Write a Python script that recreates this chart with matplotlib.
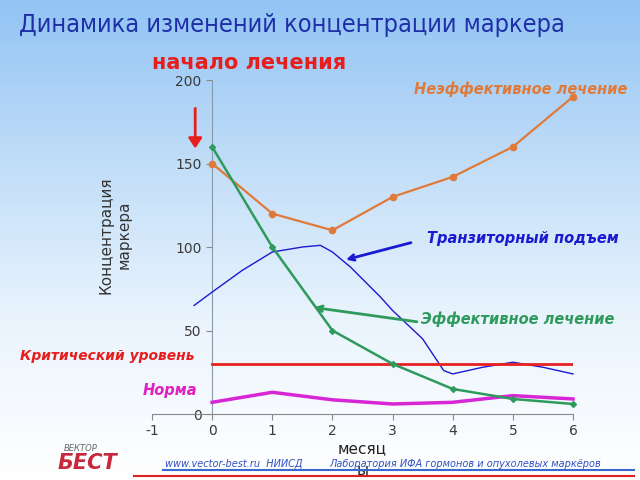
import numpy as np
import matplotlib.pyplot as plt
from matplotlib.colors import LinearSegmentedColormap

plt.rcParams['axes.unicode_minus'] = False

# Data
months = [0, 1, 2, 3, 4, 5, 6]
ineffective = [150, 120, 110, 130, 142, 160, 190]
effective = [160, 100, 50, 30, 15, 9, 6]
norma = [7, 13, 8.5, 6, 7, 11, 9]
critical_level = 30

transit_x = [-0.3, 0, 0.5, 1, 1.5, 1.8, 2, 2.3, 2.8, 3, 3.5, 3.85, 4, 4.5, 5, 5.5, 6]
transit_y = [65, 73, 86, 97, 100, 101, 97, 88, 70, 62, 45, 26, 24, 28, 31, 28, 24]

x_ticks = [-1, 0, 1, 2, 3, 4, 5, 6]
y_ticks = [0, 50, 100, 150, 200]

fig = plt.figure(figsize=(6.4, 4.8), dpi=100)

# background gradient
bg = fig.add_axes([0, 0, 1, 1], zorder=-5)
grad = np.linspace(0, 1, 256).reshape(-1, 1)
cmap = LinearSegmentedColormap.from_list('sky', ['#92c4f4', '#c0ddf8', '#eaf4fd', '#ffffff'])
bg.imshow(grad, aspect='auto', cmap=cmap, extent=[0, 1, 0, 1], origin='upper')
bg.axis('off')

ax = fig.add_axes([0.2375, 0.1375, 0.6578, 0.6958])
ax.patch.set_visible(False)

ax.plot(months, ineffective, color='#e07a3a', lw=1.6, marker='o', ms=4.5, zorder=4, clip_on=False)
ax.plot(transit_x, transit_y, color='#1a1ad0', lw=1, zorder=3, clip_on=False)
ax.plot(months, effective, color='#2e9a5c', lw=1.8, marker='D', ms=3, zorder=4, clip_on=False)
ax.plot([0, 6], [critical_level, critical_level], color='#e82020', lw=2, zorder=3)
ax.plot(months, norma, color='#d626d6', lw=2.5, zorder=3, clip_on=False)

ax.set_xlim(-1, 6)
ax.set_ylim(0, 200)
ax.set_xticks(x_ticks)
ax.set_yticks(y_ticks)
ax.tick_params(labelsize=10, colors='#3a3a3a', length=4)
ax.tick_params(axis='both', color='#888888')
for s in ['top', 'right']:
    ax.spines[s].set_visible(False)
ax.spines['left'].set_position(('data', 0))
ax.spines['left'].set_color('#8899aa')
ax.spines['bottom'].set_color('#888888')

ax.set_xlabel('месяц\nы', fontsize=11, color='#222222', labelpad=2, linespacing=1.6)

# arrows in the plot
ax.annotate('', xy=(2.18, 92), xytext=(3.35, 103),
            arrowprops=dict(arrowstyle='->', color='#1a1ad0', lw=2))
ax.annotate('', xy=(1.65, 64), xytext=(3.45, 55),
            arrowprops=dict(arrowstyle='->', color='#2e9a5c', lw=2))

# texts
fig.text(0.03, 0.948, 'Динамика изменений концентрации маркера', fontsize=18.2,
         color='#1f2fa8', family='DejaVu Sans', fontstretch='condensed', va='center')
fig.text(0.237, 0.868, 'начало лечения', fontsize=15, fontweight='bold', color='#e61e1e', va='center')
fig.text(0.18, 0.51, 'Концентрация\nмаркера', fontsize=11, color='#333333', rotation=90,
         ha='center', va='center')
fig.text(0.98, 0.815, 'Неэффективное лечение', fontsize=10.5, fontweight='bold', fontstyle='italic',
         color='#e07a3a', ha='right', va='center')
fig.text(0.667, 0.504, 'Транзиторный подъем', fontsize=10.5, fontweight='bold', fontstyle='italic',
         color='#1a1ad0', va='center')
fig.text(0.658, 0.335, 'Эффективное лечение', fontsize=10.5, fontweight='bold', fontstyle='italic',
         color='#2e9a5c', va='center')
fig.text(0.031, 0.258, 'Критический уровень', fontsize=10, fontweight='bold', fontstyle='italic',
         color='#e61e1e', va='center')
fig.text(0.308, 0.187, 'Норма', fontsize=10.5, fontweight='bold', fontstyle='italic',
         color='#e020c0', ha='right', va='center')

fig.add_artist(plt.matplotlib.patches.FancyArrowPatch(
    (0.305, 0.78), (0.305, 0.685), transform=fig.transFigure,
    arrowstyle='-|>,head_length=6,head_width=4', color='#e61e1e', lw=2))

# footer
fig.text(0.1, 0.06, 'ВЕКТОР', fontsize=6, fontstyle='italic', color='#666666')
fig.text(0.09, 0.022, 'БЕСТ', fontsize=15, fontweight='bold', fontstyle='italic', color='#c8283c')
fig.text(0.258, 0.027, 'www.vector-best.ru  НИИСД', fontsize=7, fontstyle='italic', color='#3050c0')
fig.text(0.515, 0.027, 'Лаборатория ИФА гормонов и опухолевых маркёров', fontsize=7,
         fontstyle='italic', color='#3050c0')
fig.add_artist(plt.Line2D([0.255, 0.99], [0.02, 0.02], color='#3a6ad0', lw=1.5))
fig.add_artist(plt.Line2D([0.21, 0.99], [0.008, 0.008], color='#e02020', lw=1.5))

fig.savefig('out.png', dpi=100)
